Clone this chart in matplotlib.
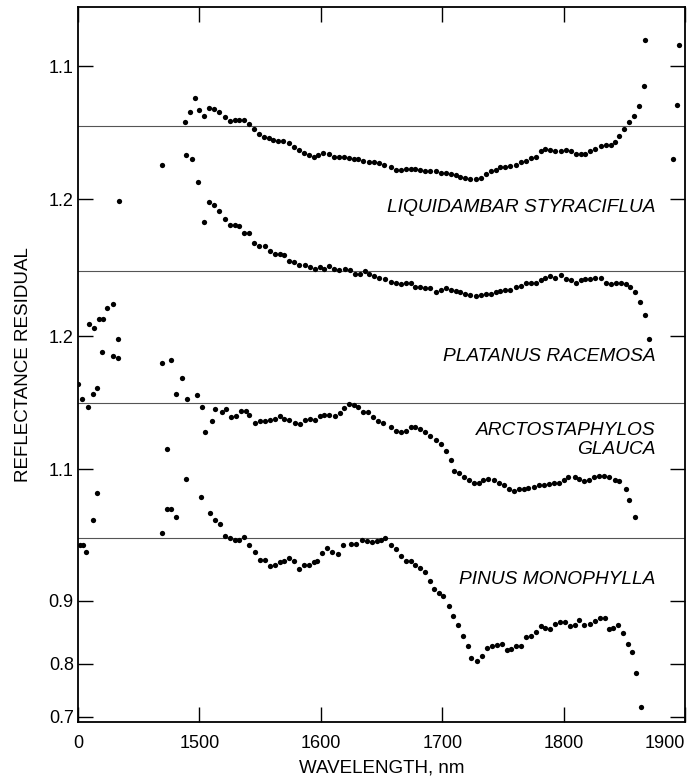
import numpy as np
import matplotlib
matplotlib.use("Agg")
import matplotlib.pyplot as plt

plt.rcParams["font.family"] = ["Liberation Sans", "DejaVu Sans"]

# wavelengths (nm) and reflectance residual relative to each curve's baseline
liq_wl = [1488, 1492, 1496, 1500, 1504, 1508, 1512, 1516, 1521, 1525, 1529, 1533, 1537, 1541,
          1545, 1549, 1553, 1557, 1561, 1565, 1569, 1574, 1578, 1582, 1586, 1590, 1594, 1598,
          1602, 1607, 1611, 1615, 1619, 1623, 1627, 1631, 1635, 1640, 1644, 1648, 1652, 1658,
          1662, 1666, 1670, 1674, 1678, 1682, 1686, 1690, 1695, 1699, 1703, 1707, 1711, 1715,
          1719, 1723, 1728, 1732, 1736, 1740, 1744, 1748, 1752, 1756, 1761, 1765, 1769, 1773,
          1777, 1781, 1785, 1789, 1793, 1798, 1802, 1806, 1810, 1814, 1818, 1822, 1826, 1831,
          1835, 1839, 1842, 1846, 1850, 1854, 1858, 1862, 1866, 1867, 1890, 1893, 1895]
liq_r = [0.003, 0.011, 0.021, 0.012, 0.008, 0.014, 0.013, 0.011, 0.007, 0.004, 0.005, 0.005,
         0.005, 0.002, -0.002, -0.006, -0.008, -0.009, -0.010, -0.011, -0.011, -0.013, -0.016,
         -0.018, -0.020, -0.022, -0.023, -0.022, -0.020, -0.021, -0.023, -0.023, -0.023, -0.024,
         -0.025, -0.025, -0.026, -0.027, -0.027, -0.028, -0.029, -0.031, -0.033, -0.033, -0.032,
         -0.032, -0.032, -0.033, -0.034, -0.034, -0.034, -0.035, -0.035, -0.036, -0.037, -0.038,
         -0.039, -0.040, -0.040, -0.039, -0.036, -0.034, -0.033, -0.031, -0.031, -0.030, -0.029,
         -0.027, -0.026, -0.024, -0.023, -0.019, -0.017, -0.018, -0.019, -0.019, -0.018, -0.019,
         -0.021, -0.021, -0.021, -0.019, -0.017, -0.015, -0.014, -0.014, -0.012, -0.007, -0.002,
         0.003, 0.008, 0.015, 0.030, 0.065, -0.025, 0.016, 0.061]

pla_wl = [1409, 1413, 1417, 1421, 1424, 1429, 1433, 1434, 1469, 1489, 1494, 1499, 1504, 1508,
          1512, 1516, 1521, 1525, 1529, 1533, 1537, 1541, 1545, 1549, 1554, 1558, 1562, 1566,
          1570, 1574, 1578, 1582, 1587, 1591, 1595, 1599, 1603, 1607, 1611, 1615, 1620, 1624,
          1628, 1632, 1636, 1640, 1644, 1648, 1653, 1658, 1662, 1666, 1670, 1674, 1678, 1682,
          1686, 1690, 1695, 1699, 1703, 1707, 1711, 1715, 1719, 1723, 1728, 1732, 1736, 1740,
          1744, 1748, 1752, 1756, 1761, 1765, 1769, 1773, 1777, 1781, 1785, 1789, 1793, 1798,
          1802, 1806, 1810, 1814, 1818, 1822, 1826, 1831, 1835, 1839, 1843, 1847, 1851, 1855,
          1859, 1863, 1867, 1870]
pla_r = [-0.040, -0.043, -0.036, -0.036, -0.028, -0.025, -0.051, 0.053, 0.080, 0.087, 0.084,
         0.067, 0.037, 0.052, 0.050, 0.045, 0.039, 0.035, 0.035, 0.034, 0.029, 0.029, 0.021,
         0.019, 0.019, 0.015, 0.013, 0.013, 0.012, 0.008, 0.007, 0.005, 0.005, 0.003, 0.002,
         0.003, 0.002, 0.004, 0.002, 0.001, 0.002, 0.001, -0.002, -0.002, 0.000, -0.002, -0.004,
         -0.005, -0.006, -0.008, -0.009, -0.010, -0.009, -0.009, -0.012, -0.012, -0.013, -0.013,
         -0.016, -0.014, -0.013, -0.014, -0.015, -0.016, -0.017, -0.018, -0.019, -0.018, -0.017,
         -0.017, -0.016, -0.015, -0.014, -0.014, -0.012, -0.011, -0.009, -0.009, -0.009, -0.007,
         -0.005, -0.004, -0.005, -0.003, -0.006, -0.007, -0.009, -0.007, -0.006, -0.006, -0.005,
         -0.005, -0.009, -0.010, -0.009, -0.009, -0.010, -0.012, -0.016, -0.023, -0.033, -0.051]

arc_wl = [1400, 1403, 1408, 1412, 1416, 1420, 1429, 1433, 1469, 1477, 1481, 1486, 1490, 1498,
          1502, 1505, 1510, 1513, 1519, 1522, 1526, 1530, 1534, 1538, 1541, 1546, 1550, 1554,
          1558, 1562, 1566, 1570, 1574, 1579, 1583, 1587, 1591, 1595, 1599, 1603, 1607, 1612,
          1616, 1619, 1623, 1627, 1631, 1635, 1639, 1643, 1647, 1651, 1658, 1662, 1666, 1670,
          1674, 1678, 1682, 1686, 1690, 1695, 1699, 1703, 1707, 1710, 1714, 1718, 1722, 1726,
          1730, 1734, 1738, 1743, 1747, 1751, 1755, 1759, 1763, 1767, 1771, 1776, 1780, 1784,
          1788, 1792, 1796, 1800, 1804, 1809, 1813, 1817, 1821, 1825, 1829, 1833, 1837, 1842,
          1846, 1851, 1854, 1859]
arc_r = [0.014, 0.003, -0.003, 0.007, 0.011, 0.038, 0.035, 0.034, 0.030, 0.032, 0.007, 0.019,
         0.003, 0.006, -0.003, -0.022, -0.014, -0.005, -0.007, -0.005, -0.011, -0.010, -0.006,
         -0.006, -0.009, -0.015, -0.014, -0.014, -0.013, -0.012, -0.010, -0.012, -0.013, -0.015,
         -0.016, -0.013, -0.012, -0.013, -0.010, -0.009, -0.009, -0.010, -0.008, -0.004, -0.001,
         -0.002, -0.003, -0.007, -0.007, -0.011, -0.014, -0.015, -0.018, -0.021, -0.022, -0.021,
         -0.018, -0.018, -0.020, -0.022, -0.025, -0.028, -0.031, -0.036, -0.043, -0.051, -0.053,
         -0.056, -0.058, -0.060, -0.060, -0.058, -0.057, -0.058, -0.060, -0.062, -0.065, -0.066,
         -0.065, -0.065, -0.064, -0.063, -0.062, -0.062, -0.061, -0.060, -0.060, -0.058, -0.056,
         -0.056, -0.057, -0.059, -0.058, -0.056, -0.055, -0.055, -0.056, -0.058, -0.059, -0.065,
         -0.073, -0.086]

pin_wl = [1402, 1404, 1407, 1412, 1416, 1469, 1473, 1473, 1477, 1481, 1489, 1501, 1509, 1513,
          1517, 1521, 1525, 1529, 1533, 1537, 1541, 1546, 1550, 1554, 1558, 1562, 1566, 1570,
          1574, 1578, 1582, 1586, 1590, 1594, 1597, 1601, 1605, 1609, 1614, 1618, 1625, 1629,
          1634, 1638, 1642, 1646, 1650, 1653, 1658, 1662, 1666, 1670, 1674, 1678, 1682, 1686,
          1690, 1693, 1697, 1701, 1706, 1709, 1713, 1717, 1721, 1724, 1729, 1733, 1737, 1741,
          1745, 1749, 1753, 1757, 1761, 1765, 1769, 1773, 1777, 1781, 1785, 1789, 1793, 1797,
          1801, 1805, 1809, 1813, 1817, 1822, 1826, 1830, 1834, 1837, 1841, 1845, 1849, 1853,
          1856, 1860, 1864]
pin_r = [-0.005, -0.005, -0.010, 0.014, 0.034, 0.004, 0.067, 0.022, 0.022, 0.016, 0.045, 0.031,
         0.019, 0.014, 0.011, 0.002, 0.000, -0.001, -0.001, 0.001, -0.005, -0.010, -0.016, -0.016,
         -0.021, -0.020, -0.018, -0.017, -0.015, -0.017, -0.023, -0.020, -0.020, -0.018, -0.017,
         -0.011, -0.007, -0.010, -0.012, -0.005, -0.004, -0.004, -0.001, -0.002, -0.003, -0.002,
         -0.001, 0.000, -0.005, -0.008, -0.013, -0.017, -0.017, -0.020, -0.022, -0.025, -0.032,
         -0.038, -0.041, -0.043, -0.051, -0.058, -0.065, -0.073, -0.081, -0.090, -0.092, -0.088,
         -0.082, -0.081, -0.080, -0.079, -0.084, -0.083, -0.081, -0.081, -0.074, -0.073, -0.070,
         -0.066, -0.067, -0.068, -0.064, -0.063, -0.063, -0.066, -0.065, -0.061, -0.065, -0.064,
         -0.062, -0.060, -0.060, -0.068, -0.067, -0.065, -0.071, -0.079, -0.085, -0.101, -0.127]

names = ["LIQUIDAMBAR STYRACIFLUA", "PLATANUS RACEMOSA", "ARCTOSTAPHYLOS\nGLAUCA", "PINUS MONOPHYLLA"]
ytick_labels = ["1.1", "1.2", "1.2", "1.1", "0.9", "0.8", "0.7"]
xtick_labels = ["0", "1500", "1600", "1700", "1800", "1900"]

# layout (stacking offsets, label spots)
offsets = [0.448, 0.339, 0.240, 0.138]
name_y = [0.387, 0.275, 0.212, 0.1075]
ytick_pos = [0.493, 0.393, 0.290, 0.190, 0.091, 0.044, 0.004]

fig = plt.figure(figsize=(6.89, 7.82), dpi=100)
ax = fig.add_axes([0.1132, 0.0767, 0.881, 0.9143])

series = [(liq_wl, liq_r), (pla_wl, pla_r), (arc_wl, arc_r), (pin_wl, pin_r)]
for (wl, r), off, name, ny in zip(series, offsets, names, name_y):
    ax.axhline(off, color="#555555", lw=0.8, zorder=1)
    ax.plot(wl, np.array(r) + off, "o", color="black", ms=3.8, mew=0, zorder=2)
    ax.text(1876, ny, name, ha="right", va="center", fontsize=13.8, style="italic",
            multialignment="right", linespacing=1.15)

ax.set_xlim(1400, 1900)
ax.set_ylim(0, 0.5376)
ax.set_xticks([1400, 1500, 1600, 1700, 1800, 1900])
ax.set_xticklabels(xtick_labels)
ax.get_xticklabels()[-1].set_ha("right")
ax.set_yticks(ytick_pos)
ax.set_yticklabels(ytick_labels)
ax.tick_params(direction="in", length=11, width=1, top=True, right=True, labelsize=13)
ax.tick_params(axis="x", pad=9)
ax.tick_params(axis="y", pad=3)
for s in ax.spines.values():
    s.set_linewidth(1.3)

ax.set_xlabel("WAVELENGTH, nm", fontsize=13.5, labelpad=6)
ax.set_ylabel("REFLECTANCE RESIDUAL", fontsize=13.5, labelpad=12)

fig.savefig("out.png", dpi=100)
